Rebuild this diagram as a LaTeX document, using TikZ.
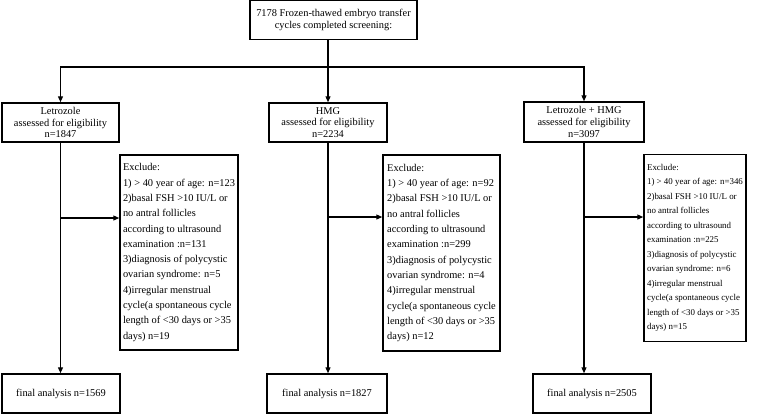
\documentclass[tikz,border=0pt]{standalone}
\usepackage{fontspec}
\setmainfont{Liberation Serif}
\usetikzlibrary{arrows.meta}
\begin{document}
\begin{tikzpicture}[x=1pt,y=-1pt,
 box/.style={draw,line width=1.5pt,inner sep=0pt,align=center,font=\fontsize{10.4}{11.8}\selectfont},
 excl/.style={draw,line width=1.5pt,inner sep=0pt,align=left,font=\fontsize{10.4}{15.3}\selectfont},
 conn/.style={line width=1.2pt,-{Triangle[length=6pt,width=5pt]}}]
\useasboundingbox (0,0) rectangle (764,416);
\node[box,minimum width=167pt,minimum height=39pt,font=\fontsize{10.4}{12.7}\selectfont] (top) at (333.5,20) {7178 Frozen-thawed embryo transfer\\cycles completed screening:};
\node[box,minimum width=117pt,minimum height=39pt] (let) at (60.5,122.5) {Letrozole\\assessed for eligibility\\n=1847};
\node[box,minimum width=118pt,minimum height=39pt] (hmg) at (328,122.5) {HMG\\assessed for eligibility\\n=2234};
\node[box,minimum width=120pt,minimum height=40pt] (lh) at (584,122) {Letrozole + HMG\\assessed for eligibility\\n=3097};
\node[excl,minimum width=118pt,minimum height=195pt] (e1) at (179,252.5) {Exclude:\\1) > 40 year of age: n=123\\2)basal FSH >10 IU/L or\\no antral follicles\\according to ultrasound\\examination :n=131\\3)diagnosis of polycystic\\ovarian syndrome: n=5\\4)irregular menstrual\\cycle(a spontaneous cycle\\length of <30 days or >35\\days) n=19};
\node[excl,minimum width=117pt,minimum height=196pt] (e2) at (441.5,253) {Exclude:\\1) > 40 year of age: n=92\\2)basal FSH >10 IU/L or\\no antral follicles\\according to ultrasound\\examination :n=299\\3)diagnosis of polycystic\\ovarian syndrome: n=4\\4)irregular menstrual\\cycle(a spontaneous cycle\\length of <30 days or >35\\days) n=12};
\node[excl,minimum width=102pt,minimum height=187pt,font=\fontsize{8.9}{14.5}\selectfont] (e3) at (695,248) {Exclude:\\1) > 40 year of age: n=346\\2)basal FSH >10 IU/L or\\no antral follicles\\according to ultrasound\\examination :n=225\\3)diagnosis of polycystic\\ovarian syndrome: n=6\\4)irregular menstrual\\cycle(a spontaneous cycle\\length of <30 days or >35\\days) n=15};
\node[box,minimum width=118pt,minimum height=39pt] (f1) at (61,393.5) {final analysis n=1569};
\node[box,minimum width=120pt,minimum height=39pt] (f2) at (327,393.5) {final analysis n=1827};
\node[box,minimum width=118pt,minimum height=39pt] (f3) at (592,393.5) {final analysis n=2505};
\coordinate (bar) at (0,67);
\draw[conn] (top.south -| hmg.north) -- (hmg.north);
\draw[conn] (bar -| hmg.north) -- (bar -| let.north) -- (let.north);
\draw[conn] (bar -| hmg.north) -- (bar -| lh.north) -- (lh.north);
\path ([yshift=34.5pt]e1.west) coordinate (a1);
\path ([yshift=36pt]e2.west) coordinate (a2);
\path ([yshift=31pt]e3.west) coordinate (a3);
\draw[conn] (let.south) -- (let.south |- f1.north);
\draw[conn] (hmg.south) -- (hmg.south |- f2.north);
\draw[conn] (lh.south) -- (lh.south |- f3.north);
\draw[conn] (let.south |- a1) -- (a1);
\draw[conn] (hmg.south |- a2) -- (a2);
\draw[conn] (lh.south |- a3) -- (a3);
\end{tikzpicture}
\end{document}
